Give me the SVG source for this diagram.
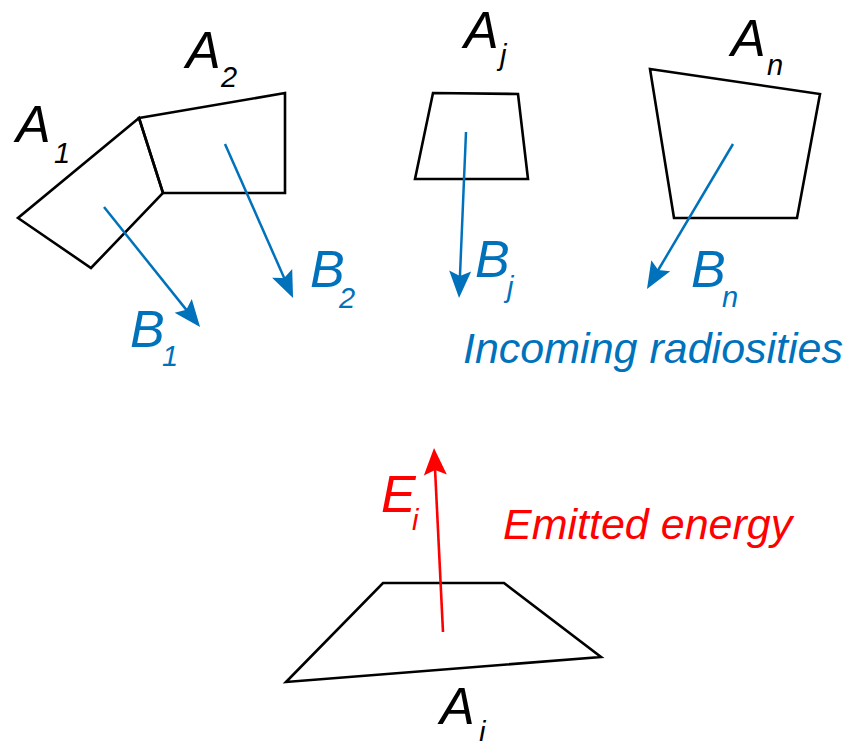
<svg xmlns="http://www.w3.org/2000/svg" width="864" height="741" viewBox="0 0 864 741">
<style>
.poly{fill:none;stroke:#000;stroke-width:2.6;stroke-linejoin:miter}
.b{stroke:#0072BC;stroke-width:2.5;fill:none}
.r{stroke:#FF0000;stroke-width:2.6;fill:none}
text{font-family:"Liberation Sans",Arial,sans-serif;font-style:italic}
.big{font-size:52px}
.sub{font-size:29px}
.lab{font-size:43px}
.k{fill:#000}
.bl{fill:#0072BC}
.rd{fill:#FF0000}
</style>
<defs>
<marker id="ab" markerUnits="userSpaceOnUse" markerWidth="40" markerHeight="30" viewBox="-20 -15 40 30" refX="0" refY="0" orient="auto" overflow="visible"><path d="M11,0 L-16,-11 L-11,0 L-16,11 Z" fill="#0072BC"/></marker>
<marker id="ar" markerUnits="userSpaceOnUse" markerWidth="40" markerHeight="30" viewBox="-20 -15 40 30" refX="0" refY="0" orient="auto" overflow="visible"><path d="M10,0 L-17,-11.5 L-12,0 L-17,11.5 Z" fill="#FF0000"/></marker>
</defs>
<g id="A1">
<polygon class="poly" points="139,118 18,218 91,268 163,193"/>
<text class="big k" x="16" y="142">A</text><text class="sub k" x="54" y="163">1</text>
</g>
<g id="A2">
<polygon class="poly" points="139,118 285,93 285,193 163,193"/>
<text class="big k" x="186" y="68">A</text><text class="sub k" x="221" y="87">2</text>
</g>
<g id="Aj">
<polygon class="poly" points="433,93 518,94 528,179 415,179"/>
<text class="big k" x="464" y="48">A</text><text class="sub k" x="500" y="65">j</text>
</g>
<g id="An">
<polygon class="poly" points="650,69 820,94 797,218 674,218"/>
<text class="big k" x="731" y="56">A</text><text class="sub k" x="767" y="75">n</text>
</g>
<g id="Ai">
<polygon class="poly" points="383,583 504,583 601,657 286,682"/>
<text class="big k" x="440" y="724">A</text><text class="sub k" x="479" y="742">i</text>
</g>
<g id="connectors">
<line class="b" x1="104" y1="207" x2="193.2" y2="318.4" marker-end="url(#ab)"/>
<line class="b" x1="225" y1="144" x2="288.6" y2="288" marker-end="url(#ab)"/>
<line class="b" x1="466" y1="132" x2="459.5" y2="287" marker-end="url(#ab)"/>
<line class="b" x1="733" y1="144" x2="652.6" y2="279.5" marker-end="url(#ab)"/>
<line class="r" x1="443" y1="632" x2="434.5" y2="458" marker-end="url(#ar)"/>
</g>
<g id="labels">
<text class="big bl" x="130" y="347">B</text><text class="sub bl" x="162" y="366">1</text>
<text class="big bl" x="310" y="287">B</text><text class="sub bl" x="339" y="308">2</text>
<text class="big bl" x="475" y="277">B</text><text class="sub bl" x="507" y="297">j</text>
<text class="big bl" x="691" y="287">B</text><text class="sub bl" x="722" y="307">n</text>
<text class="lab bl" x="463" y="363">Incoming radiosities</text>
<text class="big rd" x="381" y="512">E</text><text class="sub rd" x="412" y="530">i</text>
<text class="lab rd" x="503" y="539">Emitted energy</text>
</g>
</svg>
